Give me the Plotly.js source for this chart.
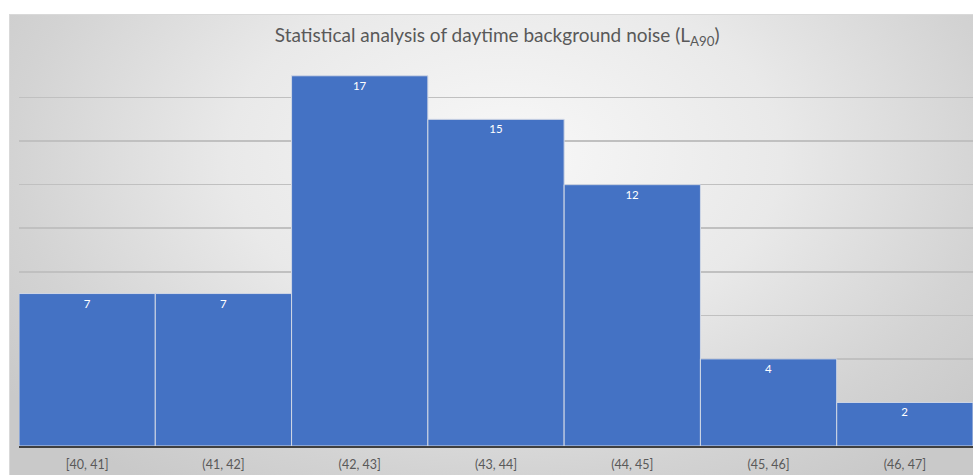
<!DOCTYPE html>
<html>
<head>
<meta charset="utf-8">
<script src="https://cdn.plot.ly/plotly-3.0.1.min.js"></script>
<style>
  html, body { margin: 0; padding: 0; background: #ffffff; }
  #wrap { position: relative; width: 973px; height: 475px; overflow: hidden; }
  #bg {
    position: absolute; left: 9px; top: 14px; width: 990px; height: 470px;
    border-top: 1px solid #d9d9d9; border-left: 1px solid #d9d9d9;
    background: radial-gradient(ellipse 62% 85% at 50% 30%, #f8f8f8 0%, #e9e9e9 45%, #d3d3d3 80%, #c9c9c9 100%);
  }
  #chart { position: absolute; left: 0; top: 0; width: 973px; height: 475px; }
</style>
</head>
<body>
<div id="wrap">
  <div id="bg"></div>
  <div id="chart"></div>
</div>
<script>
// Histogram bins of daytime background noise level (dB) and their counts
const binLabels = ["[40, 41]", "(41, 42]", "(42, 43]", "(43, 44]", "(44, 45]", "(45, 46]", "(46, 47]"];
const binCounts = [7, 7, 17, 15, 12, 4, 2];
const titleText = "Statistical analysis of daytime background noise (L<sub>A90</sub>)";

const bars = {
  type: "bar",
  x: binLabels,
  y: binCounts,
  text: binCounts.map(String),
  textposition: "inside",
  insidetextanchor: "end",
  constraintext: "none",
  textfont: { color: "#ffffff", size: 11.5, family: "Lato, 'Open Sans', sans-serif" },
  marker: { color: "#4472C4", line: { color: "#d0d7e5", width: 1 } },
  hoverinfo: "x+y"
};

const layout = {
  width: 973,
  height: 475,
  margin: { l: 19, r: 0, t: 54, b: 29 },
  paper_bgcolor: "rgba(0,0,0,0)",
  plot_bgcolor: "rgba(0,0,0,0)",
  bargap: 0,
  showlegend: false,
  font: { family: "Lato, 'Open Sans', sans-serif", color: "#595959" },
  title: {
    text: titleText,
    font: { size: 19, color: "#595959", family: "Lato, 'Open Sans', sans-serif" },
    x: 0.511, xanchor: "center",
    y: 0.925, yanchor: "middle"
  },
  xaxis: {
    type: "category",
    showgrid: false,
    showline: true,
    linecolor: "#3f3f3f",
    linewidth: 2,
    ticks: "",
    tickfont: { size: 12.5, color: "#595959" },
    ticklabelstandoff: 6,
    fixedrange: true
  },
  yaxis: {
    range: [0, 18],
    dtick: 2,
    showgrid: true,
    gridcolor: "#c0c0c0",
    gridwidth: 1.5,
    showticklabels: false,
    zeroline: false,
    showline: false,
    ticks: "",
    fixedrange: true
  }
};

Plotly.newPlot("chart", [bars], layout, { displayModeBar: false, staticPlot: true });
</script>
</body>
</html>
